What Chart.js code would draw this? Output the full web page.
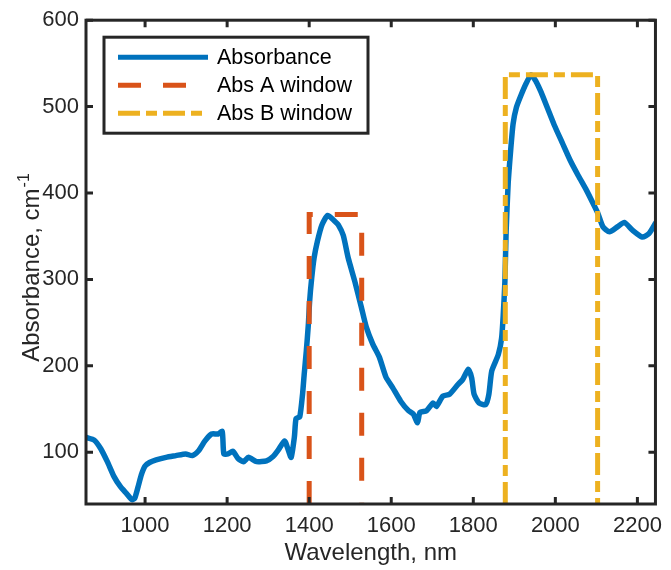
<!DOCTYPE html>
<html>
<head>
<meta charset="utf-8">
<script src="https://cdn.jsdelivr.net/npm/chart.js@4.4.0/dist/chart.umd.min.js"></script>
<style>
  html, body { margin: 0; padding: 0; background: #fff; }
  #wrap { width: 671px; height: 570px; }
</style>
</head>
<body>
<div id="wrap"><canvas id="chart" width="671" height="570"></canvas></div>
<script>
// ---- data ----
const wavelength = [857, 876, 892, 908, 924, 940, 955, 968, 975, 983, 991, 1000, 1011, 1027, 1051, 1075, 1099, 1115, 1131, 1146,
  1162, 1178, 1188, 1192, 1202, 1214, 1226, 1240, 1252, 1272, 1296, 1312, 1324, 1340, 1348, 1356, 1364, 1368, 1377, 1384,
  1388, 1393, 1398, 1401, 1406, 1412, 1420, 1431, 1445, 1463, 1471, 1483, 1495, 1511, 1527, 1539, 1555, 1571, 1587, 1603,
  1623, 1642, 1654, 1664, 1670, 1686, 1702, 1710, 1726, 1742, 1762, 1774, 1788, 1796, 1802, 1814, 1830, 1838, 1845, 1861,
  1869, 1873, 1877, 1880, 1885, 1891, 1897, 1905, 1917, 1929, 1941, 1953, 1965, 1981, 1997, 2017, 2037, 2056, 2076, 2096,
  2104, 2116, 2132, 2152, 2168, 2188, 2212, 2228, 2244];
const absorbance = [117, 114, 104, 89, 72, 60, 52, 45, 47, 60, 74, 84, 88, 91, 94, 96, 98, 96, 102, 113,
  121, 121, 124, 98, 98, 101, 93, 89, 94, 89, 90, 95, 102, 113, 104, 94, 118, 139, 141, 168,
  191, 217, 248, 274, 301, 325, 344, 363, 374, 367, 363, 351, 325, 298, 268, 245, 225, 210, 187, 175,
  159, 148, 144, 134, 146, 148, 157, 153, 165, 167, 178, 184, 196, 186, 167, 157, 155, 167, 194, 213,
  232, 259, 297, 355, 411, 449, 480, 499, 514, 527, 537, 529, 517, 498, 479, 458, 437, 420, 403, 384,
  376, 361, 355, 361, 366, 357, 349, 353, 365];

const winAX = [1400, 1400, 1528, 1528];
const winAY = [40, 375, 375, 40];
const winBX = [1878, 1878, 2103, 2103];
const winBY = [40, 537, 537, 40];

const xTicks = [1000, 1200, 1400, 1600, 1800, 2000, 2200];
const yTicks = [100, 200, 300, 400, 500, 600];
const seriesNames = ['Absorbance', 'Abs A window', 'Abs B window'];

// ---- style ----
const AXIS = '#262626';
const FONT = "'Liberation Sans', Arial, Helvetica, sans-serif";
const COLORS = ['#0072BD', '#D95319', '#EDB120'];
const DASHES = [[], [23, 22], [22, 6, 11, 6]];

Chart.defaults.font.family = FONT;
Chart.defaults.color = AXIS;

const pts = (xs, ys) => xs.map((x, i) => ({ x, y: ys[i] }));

// axis box with inward ticks, legend, axis titles
const framePlugin = {
  id: 'frame',
  afterDatasetsDraw(chart) {
    const { ctx, chartArea: a, scales: { x, y } } = chart;
    const tl = 7;
    ctx.save();
    ctx.strokeStyle = AXIS;
    ctx.lineWidth = 3;
    ctx.setLineDash([]);
    ctx.strokeRect(a.left, a.top, a.right - a.left, a.bottom - a.top);
    ctx.beginPath();
    xTicks.forEach(v => {
      const px = x.getPixelForValue(v);
      ctx.moveTo(px, a.bottom); ctx.lineTo(px, a.bottom - tl);
      ctx.moveTo(px, a.top); ctx.lineTo(px, a.top + tl);
    });
    yTicks.forEach(v => {
      const py = y.getPixelForValue(v);
      ctx.moveTo(a.left, py); ctx.lineTo(a.left + tl, py);
      ctx.moveTo(a.right, py); ctx.lineTo(a.right - tl, py);
    });
    ctx.stroke();

    // legend
    const lx = a.left + 18, ly = a.top + 17, lw = 264, lh = 96;
    ctx.fillStyle = '#fff';
    ctx.fillRect(lx, ly, lw, lh);
    ctx.strokeRect(lx, ly, lw, lh);
    ctx.font = '21.5px ' + FONT;
    ctx.textBaseline = 'middle';
    ctx.textAlign = 'left';
    seriesNames.forEach((name, i) => {
      const ry = ly + 20 + i * 28;
      ctx.strokeStyle = COLORS[i];
      ctx.lineWidth = 5;
      ctx.setLineDash(DASHES[i]);
      ctx.beginPath();
      ctx.moveTo(lx + 14, ry); ctx.lineTo(lx + 104, ry);
      ctx.stroke();
      ctx.fillStyle = '#000';
      ctx.fillText(name, lx + 113, ry + 1);
    });
    ctx.setLineDash([]);

    // x title
    ctx.fillStyle = AXIS;
    ctx.font = '24px ' + FONT;
    ctx.textAlign = 'center';
    ctx.fillText('Wavelength, nm', (a.left + a.right) / 2, 553);

    // y title with superscript
    ctx.save();
    ctx.translate(39, 268);
    ctx.rotate(-Math.PI / 2);
    ctx.textBaseline = 'alphabetic';
    ctx.textAlign = 'left';
    ctx.font = '24px ' + FONT;
    const main = 'Absorbance, cm';
    const w1 = ctx.measureText(main).width;
    ctx.font = '16px ' + FONT;
    const w2 = ctx.measureText('-1').width;
    const start = -(w1 + w2) / 2;
    ctx.font = '24px ' + FONT;
    ctx.fillText(main, start, 0);
    ctx.font = '16px ' + FONT;
    ctx.fillText('-1', start + w1 + 1, -10);
    ctx.restore();
    ctx.restore();
  }
};

new Chart(document.getElementById('chart'), {
  type: 'line',
  data: {
    datasets: [
      { label: seriesNames[0], data: pts(wavelength, absorbance), borderColor: COLORS[0], borderWidth: 5.5,
        pointRadius: 0, tension: 0.2, borderJoinStyle: 'round', borderCapStyle: 'round', order: 3 },
      { label: seriesNames[1], data: pts(winAX, winAY), borderColor: COLORS[1], borderWidth: 5,
        borderDash: DASHES[1], pointRadius: 0, tension: 0, order: 2 },
      { label: seriesNames[2], data: pts(winBX, winBY), borderColor: COLORS[2], borderWidth: 5,
        borderDash: DASHES[2], pointRadius: 0, tension: 0, order: 1 }
    ]
  },
  options: {
    responsive: false,
    animation: false,
    layout: { padding: { left: 0, right: 4, top: 16, bottom: 0 } },
    plugins: { legend: { display: false }, tooltip: { enabled: false } },
    scales: {
      x: {
        type: 'linear', min: 856, max: 2244,
        grid: { display: false, drawTicks: false }, border: { display: false },
        afterBuildTicks: s => { s.ticks = xTicks.map(v => ({ value: v })); },
        afterFit: s => { s.height = 66; },
        ticks: { font: { size: 22 }, color: AXIS, padding: 9, maxRotation: 0, callback: v => v }
      },
      y: {
        min: 40, max: 600,
        grid: { display: false, drawTicks: false }, border: { display: false },
        afterBuildTicks: s => { s.ticks = yTicks.map(v => ({ value: v })); },
        afterFit: s => { s.width = 86; },
        ticks: { font: { size: 22 }, color: AXIS, padding: 7, callback: v => v }
      }
    }
  },
  plugins: [framePlugin]
});
</script>
</body>
</html>
